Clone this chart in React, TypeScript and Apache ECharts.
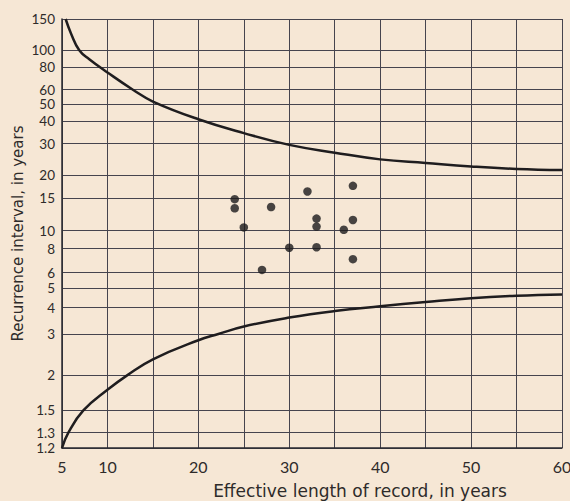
import { useEffect, useRef } from "react";
import * as echarts from "echarts";

// Effective length of record (years) — x axis
const xMin = 5;
const xMax = 60;
const xStep = 5;
const xLabelled = [5, 10, 20, 30, 40, 50, 60];

// Recurrence interval tick labels (Gumbel probability scale)
const yTickLabels = [1.2, 1.3, 1.5, 2, 3, 4, 5, 6, 8, 10, 15, 20, 30, 40, 50, 60, 80, 100, 150];

// Upper control curve
const upperYears = [5.4, 6, 6.9, 8, 10, 12.8, 15, 20, 25, 30, 35, 40, 45, 50, 55, 60];
const upperInterval = [150, 124, 100, 89, 75, 60, 51.5, 41, 34.3, 29.5, 26.7, 24.5, 23.4, 22.4, 21.7, 21.4];

// Lower control curve
const lowerYears = [5, 5.7, 7.35, 10, 12.2, 15, 20, 22.2, 25, 30, 35, 40, 45, 50, 55, 60];
const lowerInterval = [1.2, 1.3, 1.5, 1.76, 2.0, 2.32, 2.81, 3.0, 3.25, 3.58, 3.85, 4.06, 4.26, 4.45, 4.58, 4.65];

// Plotted stations
const stationYears = [24, 24, 25, 28, 27, 30, 32, 33, 33, 33, 36, 37, 37, 37];
const stationInterval = [14.8, 13.2, 10.4, 13.4, 6.2, 8.1, 16.3, 11.6, 10.5, 8.15, 10.1, 17.5, 11.4, 7.05];

// Gumbel reduced variate for recurrence interval T
const g = (t: number) => -Math.log(-Math.log(1 - 1 / t));

const toPairs = (xs: number[], ts: number[]) => xs.map((x, i) => [x, g(ts[i])]);

export default function App() {
  const ref = useRef<HTMLDivElement>(null);

  useEffect(() => {
    if (!ref.current) return;
    const chart = echarts.init(ref.current, undefined, { renderer: "svg" });
    const yCustom = yTickLabels.map(g);
    const yMin = g(yTickLabels[0]) - 1e-6;
    const yMax = g(yTickLabels[yTickLabels.length - 1]) + 1e-6;
    const gridColor = "#46444e";
    const textColor = "#2e2b2a";

    chart.setOption({
      animation: false,
      backgroundColor: "#f6e7d5",
      grid: { left: 62, right: 8, top: 19, bottom: 53, containLabel: false, outerBoundsMode: "none" },
      xAxis: {
        type: "value",
        min: xMin,
        max: xMax,
        interval: xStep,
        axisLine: { show: true, onZero: false, lineStyle: { color: "#2a2a30", width: 1.5 } },
        axisTick: { show: false },
        splitLine: { show: true, lineStyle: { color: gridColor, width: 1 } },
        axisLabel: {
          margin: 10,
          color: textColor,
          fontFamily: "Lato",
          fontSize: 16,
          formatter: (v: number) => (xLabelled.includes(Math.round(v)) ? String(Math.round(v)) : ""),
        },
      },
      yAxis: {
        type: "value",
        min: yMin,
        max: yMax,
        name: "Recurrence interval, in years",
        nameLocation: "middle",
        nameGap: 37,
        nameMoveOverlap: false,
        nameTextStyle: { color: textColor, fontFamily: "DejaVu Sans", fontSize: 15 },
        axisLine: { show: true, onZero: false, lineStyle: { color: "#2a2a30", width: 1.5 } },
        axisTick: { show: false, customValues: yCustom },
        splitLine: { show: true, lineStyle: { color: gridColor, width: 1 } },
        axisLabel: {
          customValues: yCustom,
          margin: 7,
          color: textColor,
          fontFamily: "Lato",
          fontSize: 13.5,
          lineHeight: 13,
          showMinLabel: true,
          showMaxLabel: true,
          formatter: (v: number) => {
            let best = yTickLabels[0];
            let d = Infinity;
            for (const t of yTickLabels) {
              const dd = Math.abs(g(t) - v);
              if (dd < d) {
                d = dd;
                best = t;
              }
            }
            return String(best);
          },
        },
      },
      graphic: [
        {
          type: "text",
          x: 360,
          y: 491,
          style: {
            text: "Effective length of record, in years",
            fill: textColor,
            font: "17px 'DejaVu Sans'",
            textAlign: "center",
            textVerticalAlign: "middle",
          },
        },
      ],
      series: [
        {
          type: "line",
          data: toPairs(upperYears, upperInterval),
          smooth: 0.45,
          showSymbol: false,
          lineStyle: { color: "#1f1d1f", width: 2.5 },
        },
        {
          type: "line",
          data: toPairs(lowerYears, lowerInterval),
          smooth: 0.45,
          showSymbol: false,
          lineStyle: { color: "#1f1d1f", width: 2.5 },
        },
        {
          type: "scatter",
          data: toPairs(stationYears, stationInterval),
          symbol: "circle",
          symbolSize: 8.5,
          itemStyle: { color: "#1c1a1c" },
        },
      ],
    });
    return () => chart.dispose();
  }, []);

  return (
    <div
      ref={ref}
      style={{ position: "fixed", left: 0, top: 0, width: 570, height: 501, background: "#f6e7d5" }}
    />
  );
}
